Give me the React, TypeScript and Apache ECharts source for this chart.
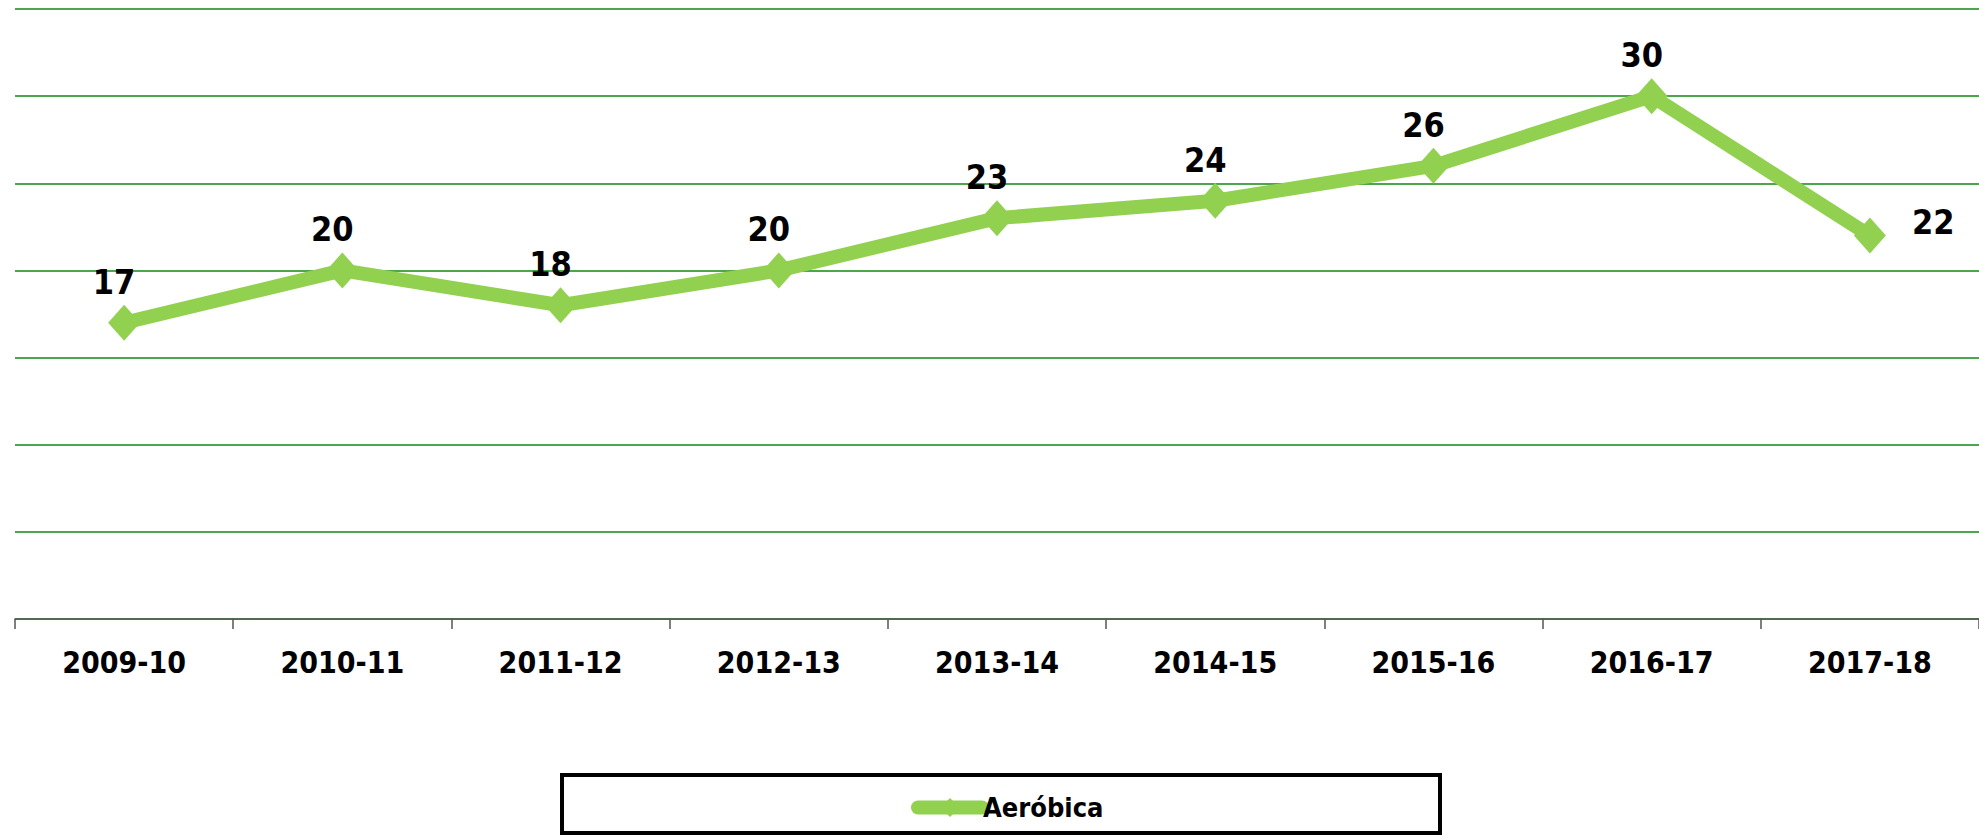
import React, { useEffect, useRef } from "react";
import * as echarts from "echarts";

const categories = ["2009-10", "2010-11", "2011-12", "2012-13", "2013-14", "2014-15", "2015-16", "2016-17", "2017-18"];
const aerobica = [17, 20, 18, 20, 23, 24, 26, 30, 22];
const seriesName = "Aeróbica";

const FONT = '"DejaVu Sans Condensed", "Liberation Sans Narrow", "Liberation Sans", sans-serif';

export default function App() {
  const ref = useRef<HTMLDivElement>(null);
  useEffect(() => {
    if (!ref.current) return;
    const chart = echarts.init(ref.current, null, { renderer: "svg" });
    const data = aerobica.map((v, i) =>
      i === aerobica.length - 1
        ? { value: v, label: { position: "right", distance: 26, offset: [0, -14] } }
        : { value: v }
    );
    chart.setOption({
      animation: false,
      backgroundColor: "#ffffff",
      grid: { left: 15, right: -10, top: 9, bottom: 219, containLabel: false },
      xAxis: {
        type: "category",
        data: categories,
        boundaryGap: true,
        axisLine: { show: true, lineStyle: { color: "#555555", width: 1.5 } },
        axisTick: { show: true, length: 10, lineStyle: { color: "#555555", width: 1.5 } },
        axisLabel: {
          color: "#000000",
          fontFamily: FONT,
          fontWeight: "bold",
          fontSize: 30,
          margin: 28,
        },
      },
      yAxis: {
        type: "value",
        min: 0,
        max: 35,
        interval: 5,
        axisLabel: { show: false },
        axisLine: { show: false },
        axisTick: { show: false },
        splitLine: { show: true, lineStyle: { color: "#118811", width: 1.5 } },
      },
      legend: {
        show: true,
        left: 906,
        top: 789,
        itemWidth: 64,
        itemHeight: 24,
        itemGap: 0,
        lineStyle: { width: 14, cap: "round" },
        textStyle: { color: "#000000", fontFamily: FONT, fontWeight: "bold", fontSize: 27, padding: [0, 0, 0, -4] },
        data: [seriesName],
      },
      graphic: [
        {
          type: "rect",
          shape: { x: 562, y: 775, width: 878, height: 58 },
          style: { fill: "none", stroke: "#000000", lineWidth: 4 },
          silent: true,
        },
      ],
      series: [
        {
          name: seriesName,
          type: "line",
          data,
          symbol: "diamond",
          symbolSize: [32, 36],
          lineStyle: { color: "#92D050", width: 14 },
          itemStyle: { color: "#92D050" },
          label: {
            show: true,
            position: "top",
            distance: 6,
            offset: [-10, 0],
            color: "#000000",
            fontFamily: FONT,
            fontWeight: "bold",
            fontSize: 34,
          },
        },
      ],
    });
    return () => chart.dispose();
  }, []);
  return (
    <div
      ref={ref}
      style={{ position: "fixed", left: 0, top: 0, width: "1979px", height: "838px" }}
    />
  );
}
